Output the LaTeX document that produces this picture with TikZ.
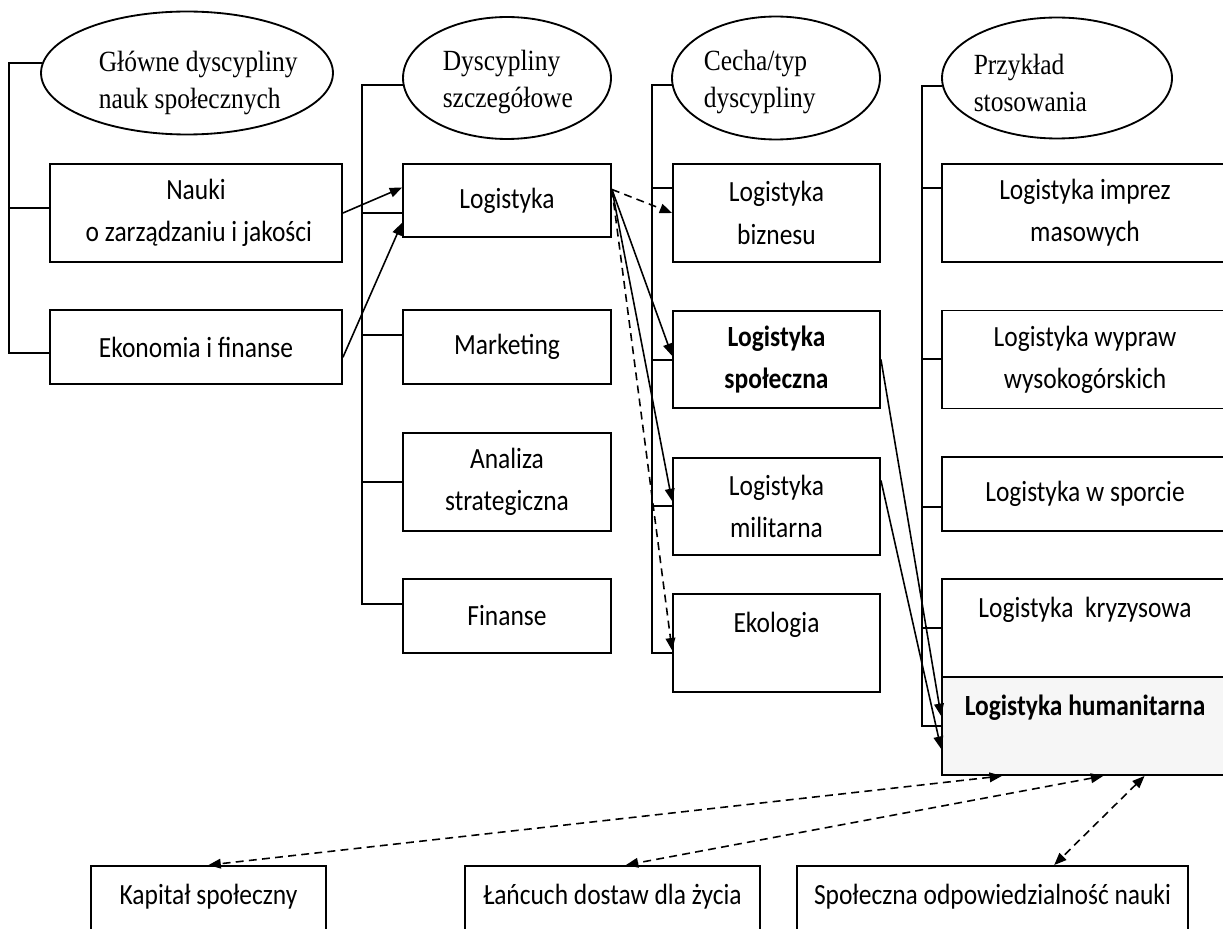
\documentclass[tikz,border=0pt]{standalone}
\usepackage{fontspec}
\setmainfont{Carlito}
\newfontfamily\headfont{Liberation Serif}
\usetikzlibrary{shapes.geometric,arrows.meta}
\newcommand{\ys}[1]{\scalebox{1}[1.15]{#1}} % the scan is a little stretched upwards

\begin{document}
\begin{tikzpicture}[%
  x=0.02cm, y=-0.02cm, % one unit is one pixel of the scan, y runs downwards
  line width=0.9pt,
  head/.style={ellipse, draw, line width=1.05pt, inner sep=0pt}, % column headers
  headtext/.style={anchor=west, align=left, inner sep=0pt, font=\headfont\fontsize{14.5}{21}\selectfont},
  box/.style={rectangle, draw, line width=1.1pt, align=center, inner sep=0pt, font=\fontsize{14.5}{24}\selectfont},
  mainbox/.style={box, minimum width=5.84cm}, % first column
  subbox/.style={box, minimum width=4.16cm}, % second column
  typebox/.style={box, minimum width=4.14cm, minimum height=1.95cm}, % third column
  usebox/.style={box, minimum width=5.72cm}, % fourth column
  endbox/.style={box, minimum height=1.96cm}, % bottom row
  tallbox/.style={minimum height=1.96cm},
  lowbox/.style={minimum height=1.48cm},
  arr/.style={-{Triangle[length=7pt,width=5.5pt]}},
  dline/.style={dash pattern=on 4.5pt off 3pt},
  both/.style={{Triangle[length=7pt,width=5.5pt]}-{Triangle[length=7pt,width=5.5pt]}, dline}
]
\useasboundingbox (0,0) rectangle (1223,929);
\clip (0,0) rectangle (1223,929);

% Column 1
\node[head, minimum width=5.84cm, minimum height=2.46cm] (hd1) at (187,73) {};
\node[headtext] (hd1txt) at (98,83) {\ys{Główne dyscypliny}\\\ys{nauk społecznych}};
\node[mainbox, tallbox] (nauki) at (196,213) {\ys{Nauki}\\\ys{ o zarządzaniu i jakości}};
\node[mainbox, lowbox] (ekon) at (196,347) {\ys{Ekonomia i finanse}};

% Column 2
\node[head, minimum width=4.16cm, minimum height=2.44cm] (hd2) at (507,78) {};
\node[headtext] (hd2txt) at (442,82) {\ys{Dyscypliny}\\\ys{szczegółowe}};
\node[subbox, minimum height=1.46cm] (logi) at (507,200.5) {\ys{Logistyka}};
\node[subbox, lowbox] (mark) at (507,347) {\ys{Marketing}};
\node[subbox, tallbox] (anal) at (507,482) {\ys{Analiza}\\\ys{strategiczna}};
\node[subbox, lowbox] (fin) at (507,616) {\ys{Finanse}};

% Column 3
\node[head, minimum width=4.16cm, minimum height=2.46cm] (hd3) at (776,78) {};
\node[headtext] (hd3txt) at (703,82) {\ys{Cecha/typ}\\\ys{dyscypliny}};
\node[typebox] (biz) at (776.5,213) {\ys{Logistyka}\\\ys{biznesu}};
\node[typebox] (spol) at (776.5,359.5) {\ys{\textbf{Logistyka}}\\\ys{\textbf{społeczna}}};
\node[typebox] (mil) at (776.5,506.5) {\ys{Logistyka}\\\ys{militarna}};
\node[typebox] (ekol) at (776.5,643) {\ys{Ekologia}\\\mbox{}};

% Column 4
\node[head, minimum width=4.6cm, minimum height=2.42cm] (hd4) at (1057,78) {};
\node[headtext] (hd4txt) at (973,83) {\ys{Przykład}\\\ys{stosowania}};
\node[usebox, tallbox] (imp) at (1085,213) {\ys{Logistyka imprez}\\\ys{masowych}};
\node[usebox, tallbox] (wyp) at (1085,359.5) {\ys{Logistyka wypraw}\\\ys{wysokogórskich}};
\node[usebox, lowbox] (spo) at (1085,494) {\ys{Logistyka w sporcie}};
\node[usebox, tallbox] (kry) at (1085,628) {\ys{Logistyka\ \ kryzysowa}\\\mbox{}};
\node[usebox, tallbox, fill=gray!7] (hum) at (1085,726) {\ys{\textbf{Logistyka humanitarna}}\\\mbox{}};

% Bottom row
\node[endbox, minimum width=4.7cm] (kap) at (208.5,915) {\ys{Kapitał społeczny}\\\mbox{}};
\node[endbox, minimum width=5.9cm] (lan) at (612.5,915) {\ys{Łańcuch dostaw dla życia}\\\mbox{}};
\node[endbox, minimum width=7.82cm] (odp) at (992.5,915) {\ys{Społeczna odpowiedzialność nauki}\\\mbox{}};

% Brackets
\coordinate (c1) at (9,0);
\coordinate (c2) at (362,0);
\coordinate (c3) at (652,0);
\coordinate (c4) at (922,0);
\draw (hd1.176) -| (c1 |- 0,353) -- (ekon.west |- 0,353);
\draw (c1 |- 0,208) -- (nauki.west |- 0,208);
\draw (hd2.184) -| (c2 |- 0,604) -- (fin.west |- 0,604);
\foreach \y/\b in {213/logi, 335/mark, 482/anal}
  \draw (c2 |- 0,\y) -- (\b.west |- 0,\y);
\draw (hd3.184) -| (c3 |- 0,653) -- (ekol.west |- 0,653);
\foreach \y/\b in {188/biz, 360/spol, 506/mil}
  \draw (c3 |- 0,\y) -- (\b.west |- 0,\y);
\draw (hd4.184) -| (c4 |- 0,726) -- (hum.west |- 0,726);
\foreach \y/\b in {188/imp, 359/wyp, 507/spo, 628/kry}
  \draw (c4 |- 0,\y) -- (\b.west |- 0,\y);

% Into Logistyka
\draw[arr] (nauki.east) -- (logi.173);
\draw[arr] (ekon.356) -- (logi.192);
% Out of Logistyka
\draw[arr, dline] (logi.6) -- (biz.west);
\draw[arr] (logi.6) -- (spol.178);
\draw[arr] (logi.6) -- (mil.177);
\draw[arr, dline] (logi.6) -- (ekol.184);
% Into Logistyka humanitarna
\draw[arr] (spol.east) -- (hum.176);
\draw[arr] (mil.14) -- (hum.189);
% Bottom links
\draw[both] (hum.211) -- (kap.north);
\draw[both] (hum.290) -- (lan.75);
\draw[both] (hum.320) -- (odp.39);

\end{tikzpicture}
\end{document}
